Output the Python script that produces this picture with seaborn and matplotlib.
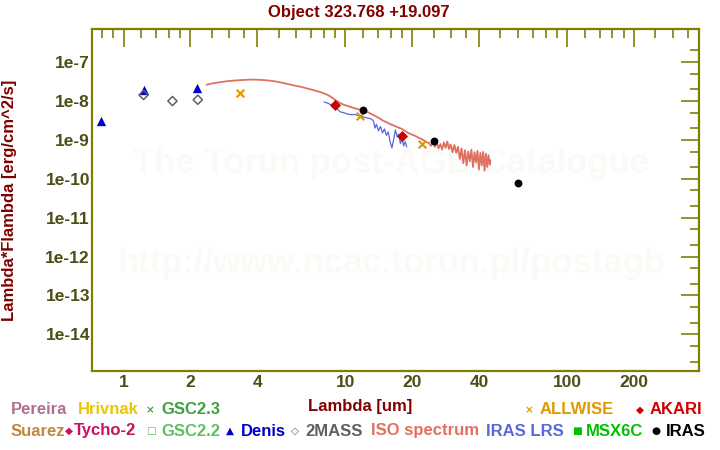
"""
    SED plot for post-AGB object 323.768 +19.097 (Torun catalogue style).
"""

import matplotlib
matplotlib.use('Agg')
import matplotlib.pyplot as plt
import matplotlib.ticker as mticker
import seaborn as sns

# photometry (wavelength [um], lambda*F_lambda [erg/cm^2/s])
denis_wl = [0.79, 1.23, 2.15]
denis_flux = [3.1e-9, 1.86e-8, 2.1e-8]

tmass_wl = [1.23, 1.66, 2.16]
tmass_flux = [1.42e-8, 9.9e-9, 1.07e-8]

allwise_wl = [3.35, 11.6, 22.1]
allwise_flux = [1.6e-8, 4.2e-9, 7.9e-10]

akari_wl = [9.0, 18.0]
akari_flux = [8.0e-9, 1.27e-9]

iras_wl = [12.0, 25.0, 60.0]
iras_flux = [5.9e-9, 9.5e-10, 7.7e-11]

# ISO spectrum, flux in units of 1e-10
iso_wl = [2.37, 2.5, 2.7, 2.9, 3.1, 3.3, 3.5, 3.7, 3.9, 4.1, 4.3, 4.6, 4.9, 5.2,
          5.5, 5.8, 6.2, 6.6, 7.0, 7.4, 7.8, 8.2, 8.6, 9.0, 9.4, 9.8, 10.3, 10.8,
          11.3, 11.8, 12.4, 13.0, 13.6, 14.2, 14.8, 15.4, 16.0, 16.6, 17.2, 17.8,
          18.4, 19.0, 19.6, 20.2, 20.8, 21.4, 22.0, 22.6, 23.2, 23.8,
          24.3, 24.8, 25.3, 25.8, 26.3, 26.8, 27.3, 27.8, 28.3, 28.8, 29.3, 29.8,
          30.4, 31.0, 31.6, 32.2, 32.8, 33.4, 34.0, 34.6, 35.2, 35.8, 36.4, 37.0,
          37.6, 38.2, 38.8, 39.4, 40.0, 40.6, 41.2, 41.8, 42.4, 43.0, 43.6, 44.2,
          44.8, 45.0]
iso_flux = [260, 280, 300, 318, 330, 340, 346, 352, 352, 348, 342, 330, 312, 292,
            272, 252, 235, 215, 196, 180, 165, 148, 128, 105, 90, 80, 73, 67,
            62, 58, 54, 47, 41, 36, 31, 28, 25, 23, 21, 19.5,
            17.5, 15.5, 14.2, 13.3, 12.3, 11.3, 10.5, 9.6, 8.7, 8.3,
            7.0, 8.8, 6.6, 8.4, 6.0, 7.8, 5.6, 8.6, 6.2, 9.0, 5.8, 7.6,
            4.8, 7.4, 4.6, 6.6, 3.2, 6.0, 2.5, 5.4, 2.2, 5.0, 2.8, 5.6,
            2.0, 4.8, 2.6, 5.2, 1.7, 4.6, 2.2, 4.9, 1.6, 4.4, 2.0, 4.0,
            2.3, 3.0]

# IRAS LRS spectrum, flux in units of 1e-10
lrs_wl = [8.0, 8.3, 8.6, 8.9, 9.2, 9.5, 9.8, 10.2, 10.6, 11.0, 11.4, 11.8, 12.2,
          12.6, 13.0, 13.2, 13.4, 13.6, 13.8, 14.1, 14.4, 14.7, 15.0, 15.3, 15.6,
          15.9, 16.2, 16.5, 16.8, 17.1, 17.4, 17.7, 18.0, 18.3, 18.6, 18.9]
lrs_flux = [94, 88, 80, 72, 62, 52, 50, 46, 44, 45, 42, 40, 38,
            36, 35, 33, 30, 20, 25, 17, 22, 15, 19, 13, 16,
            9, 6.2, 10, 18, 12, 14, 8, 11, 7, 9, 6.5]

x_major = [1, 2, 4, 10, 20, 40, 100, 200]
x_minor = [0.8, 0.9, 1.2, 1.4, 1.6, 1.8, 2.5, 3, 3.5, 5, 6, 7, 8, 9, 12, 14, 16, 18,
           25, 30, 35, 50, 60, 70, 80, 90, 120, 140, 160, 180, 250, 300, 350]
y_major = [1e-7, 1e-8, 1e-9, 1e-10, 1e-11, 1e-12, 1e-13, 1e-14]
y_labels = ['1e-7', '1e-8', '1e-9', '1e-10', '1e-11', '1e-12', '1e-13', '1e-14']
y_minor = [2e-7, 5e-8, 2e-8, 5e-9, 2e-9, 5e-10, 2e-10, 5e-11, 2e-11, 5e-12, 2e-12,
           5e-13, 2e-13, 5e-14, 2e-14, 5e-15, 2e-15]

OLIVE = '#808000'
TICKTXT = '#4d4d16'
DARKRED = '#800000'

sns.set_style('white')
plt.rcParams['font.family'] = ['Liberation Sans', 'DejaVu Sans']
plt.rcParams['font.weight'] = 'bold'

fig = plt.figure(figsize=(7.2, 4.5), dpi=100)
ax = fig.add_axes([92 / 720, 1 - 371 / 450, 607 / 720, 342 / 450])
ax.set_xscale('log')
ax.set_yscale('log')

# watermark
ax.text(0.493, 1 - (163 - 29) / 342, 'The Torun post-AGB Catalogue', transform=ax.transAxes,
        ha='center', va='center', fontsize=25, color='#fcfaf6', zorder=0)
ax.text(0.493, 1 - (263 - 29) / 342, 'http://www.ncac.torun.pl/postagb', transform=ax.transAxes,
        ha='center', va='center', fontsize=25, color='#fcfaf6', zorder=0)

# spectra
iso_y = [v * 1e-10 for v in iso_flux]
lrs_y = [v * 1e-10 for v in lrs_flux]
sns.lineplot(x=iso_wl, y=iso_y, ax=ax, color='#e07060', lw=1.3, sort=False, estimator=None, zorder=2)
sns.lineplot(x=lrs_wl, y=lrs_y, ax=ax, color='#5a68d8', lw=0.9, sort=False, estimator=None, zorder=2)

# photometry
sns.scatterplot(x=denis_wl, y=denis_flux, ax=ax, marker='^', s=45, color='#0000cc', linewidth=0, zorder=3)
sns.scatterplot(x=tmass_wl, y=tmass_flux, ax=ax, marker='D', s=22, facecolor='none',
                edgecolor='#606060', linewidth=1.1, zorder=3)
sns.scatterplot(x=allwise_wl, y=allwise_flux, ax=ax, marker='x', s=30, color='#e09a00', linewidth=1.6, zorder=3)
sns.scatterplot(x=akari_wl, y=akari_flux, ax=ax, marker='D', s=32, color='#d00000', linewidth=0, zorder=4)
sns.scatterplot(x=iras_wl, y=iras_flux, ax=ax, marker='o', s=32, color='black', linewidth=0, zorder=4)

ax.set_xlim(0.72, 393)
ax.set_ylim(1.14e-15, 7.05e-7)

ax.xaxis.set_major_locator(mticker.FixedLocator(x_major))
ax.xaxis.set_major_formatter(mticker.FixedFormatter([str(v) for v in x_major]))
ax.xaxis.set_minor_locator(mticker.FixedLocator(x_minor))
ax.xaxis.set_minor_formatter(mticker.NullFormatter())
ax.yaxis.set_major_locator(mticker.FixedLocator(y_major))
ax.yaxis.set_major_formatter(mticker.FixedFormatter(y_labels))
ax.yaxis.set_minor_locator(mticker.FixedLocator(y_minor))
ax.yaxis.set_minor_formatter(mticker.NullFormatter())

ax.tick_params(which='both', direction='in', top=True, right=True, color=OLIVE,
               width=1.2, labelcolor=TICKTXT, labelsize=12.5)
ax.tick_params(which='major', length=13)
ax.tick_params(which='minor', length=6.5)
ax.tick_params(axis='x', pad=3)
ax.tick_params(axis='y', pad=1.5)
for lab in ax.get_xticklabels() + ax.get_yticklabels():
    lab.set_fontweight('bold')
for sp in ax.spines.values():
    sp.set_color(OLIVE)
    sp.set_linewidth(1.6)

# title and axis labels
fig.text(359 / 720, 1 - 12 / 450, 'Object 323.768 +19.097', ha='center', va='center',
         fontsize=12, color=DARKRED, fontweight='bold')
fig.text(360 / 720, 1 - 407 / 450, 'Lambda [um]', ha='center', va='center',
         fontsize=12, color=DARKRED, fontweight='bold')
fig.text(10 / 720, 1 - 200 / 450, 'Lambda*Flambda [erg/cm^2/s]', ha='center', va='center',
         rotation=90, fontsize=12, color=DARKRED, fontweight='bold')

# legend as coloured text
legend_items = [
    (11, 410, 'Pereira', '#b07090', None),
    (78, 410, 'Hrivnak', '#e8c800', None),
    (161, 410, 'GSC2.3', '#40a040', ('\u00d7', 146)),
    (540, 410, 'ALLWISE', '#e09a00', ('\u00d7', 525)),
    (650, 410, 'AKARI', '#d00000', ('\u25c6', 636)),
    (11, 431, 'Suarez', '#c08840', None),
    (74, 431, 'Tycho-2', '#cc1060', ('\u25c6', 65)),
    (161, 431, 'GSC2.2', '#60c060', ('\u25a1', 146)),
    (241, 431, 'Denis', '#0000cc', ('\u25b2', 226)),
    (305, 431, '2MASS', '#606060', ('\u25c7', 291)),
    (371, 431, 'ISO spectrum', '#e07060', None),
    (486, 431, 'IRAS LRS', '#5a68d8', None),
    (586, 431, 'MSX6C', '#00c000', ('\u25a0', 572)),
    (666, 431, 'IRAS', '#000000', ('\u25cf', 651)),
]
for x, y, label, col, mark in legend_items:
    fig.text(x / 720, 1 - y / 450, label, ha='left', va='center', fontsize=12,
             color=col, fontweight='bold')
    if mark is not None:
        fig.text(mark[1] / 720, 1 - y / 450, mark[0], ha='left', va='center', fontsize=7.5,
                 color=col, family=['DejaVu Sans'])

fig.savefig('out.png', dpi=100)
